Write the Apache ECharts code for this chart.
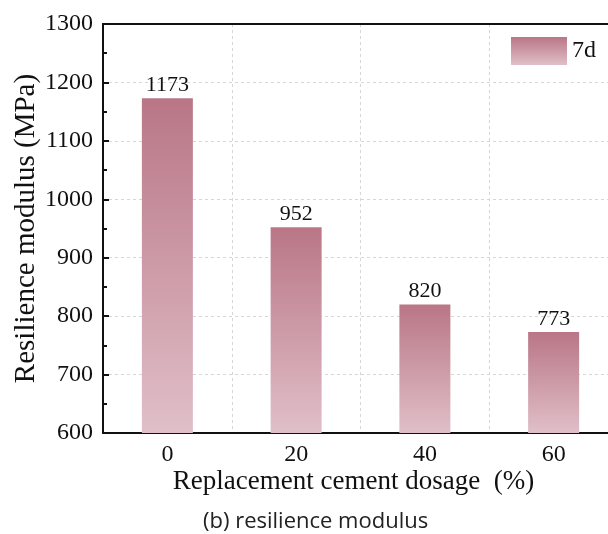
<!DOCTYPE html>
<html>
<head>
<meta charset="utf-8">
<script src="https://cdn.jsdelivr.net/npm/echarts@6/dist/echarts.min.js"></script>
<style>
  html, body { margin: 0; padding: 0; background: #fff; }
  #chart { width: 608px; height: 534px; }
</style>
</head>
<body>
<div id="chart"></div>
<script>
// Replacement cement dosage (%) and 7-day resilience modulus (MPa)
const dosages = ['0', '20', '40', '60'];
const modulus7d = [1173, 952, 820, 773];
const seriesName = '7d';

const serif = '"Liberation Serif", "Times New Roman", serif';
const barFill = new echarts.graphic.LinearGradient(0, 0, 0, 1, [
  { offset: 0, color: '#b97686' },
  { offset: 1, color: '#e0bfc8' }
]);

const chart = echarts.init(document.getElementById('chart'), null, { renderer: 'canvas' });
chart.setOption({
  backgroundColor: '#fff',
  animation: false,
  grid: { left: 103, top: 24, right: -10, bottom: 101, containLabel: false, outerBoundsMode: 'none' },
  legend: {
    right: 7, top: 32,
    icon: 'rect',
    itemWidth: 56, itemHeight: 28, itemGap: 8,
    textStyle: { fontFamily: serif, fontSize: 24, color: '#111' },
    data: [seriesName]
  },
  title: {
    text: '(b) resilience modulus',
    left: 198, top: 506,
    textStyle: { fontFamily: '"Open Sans", "Noto Sans", sans-serif', fontSize: 22, fontWeight: 'normal', color: '#222' }
  },
  xAxis: {
    type: 'category',
    data: dosages,
    boundaryGap: true,
    name: 'Replacement cement dosage  (%)',
    nameLocation: 'middle',
    nameGap: 35,
    nameMoveOverlap: false,
    nameTextStyle: { fontFamily: serif, fontSize: 27, color: '#111', padding: [0, 14, 0, 0] },
    axisLine: { lineStyle: { color: '#111', width: 2 } },
    axisTick: { show: false },
    axisLabel: { fontFamily: serif, fontSize: 24, color: '#111', margin: 10 },
    splitLine: { show: true, interval: 0, lineStyle: { color: '#d6d6d6', type: [3, 3], width: 1 } }
  },
  yAxis: {
    type: 'value',
    min: 600, max: 1300, interval: 100,
    name: 'Resilience modulus (MPa)',
    nameLocation: 'middle',
    nameGap: 62,
    nameMoveOverlap: false,
    nameTextStyle: { fontFamily: serif, fontSize: 29, color: '#111' },
    axisLine: { show: true, lineStyle: { color: '#111', width: 2 } },
    axisTick: { show: true, inside: true, length: 6, lineStyle: { color: '#111', width: 2 } },
    minorTick: { show: true, splitNumber: 2, length: 4, lineStyle: { color: '#111', width: 2 } },
    axisLabel: {
      fontFamily: serif, fontSize: 24, color: '#111', margin: 10,
      formatter: function (v) { return String(v); }
    },
    splitLine: { show: true, lineStyle: { color: '#d6d6d6', type: [3, 3], width: 1 } }
  },
  series: [{
    name: seriesName,
    type: 'bar',
    data: modulus7d,
    barWidth: 51,
    itemStyle: { color: barFill },
    label: {
      show: true, position: 'top', distance: 2,
      fontFamily: serif, fontSize: 22, color: '#111'
    }
  }],
  graphic: [{
    type: 'line',
    shape: { x1: 102, y1: 24, x2: 608, y2: 24 },
    style: { stroke: '#111', lineWidth: 2 },
    z: 10
  }]
});
</script>
</body>
</html>
